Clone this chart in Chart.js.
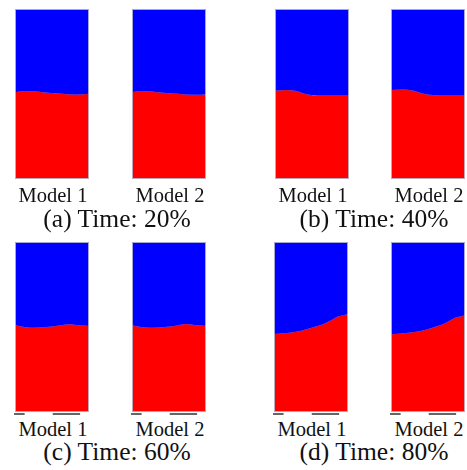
<!DOCTYPE html>
<html>
<head>
<meta charset="utf-8">
<script src="https://cdn.jsdelivr.net/npm/chart.js@4/dist/chart.umd.min.js"></script>
<style>
  html, body { margin: 0; padding: 0; background: #fff; }
  body { width: 467px; height: 470px; position: relative; overflow: hidden; font-family: "Liberation Serif", "DejaVu Serif", serif; color: #111; }
  .cell { position: absolute; width: 76px; height: 176px; }
  .cell canvas { display: block; }
  .lbl { position: absolute; width: 120px; text-align: center; font-size: 20.5px; line-height: 20px; white-space: nowrap; }
  .cap { position: absolute; width: 220px; text-align: center; font-size: 25.5px; line-height: 25px; white-space: nowrap; }
</style>
</head>
<body>
<script>
// Sub-figure captions and model names
const captions = ['(a) Time: 20%', '(b) Time: 40%', '(c) Time: 60%', '(d) Time: 80%'];
const modelNames = ['Model 1', 'Model 2'];

// Interface height (fraction of column height) sampled along the column width (fraction)
const colA1 = [0, 0.15, 0.38, 0.60, 0.83, 1];
const lvlA1 = [0.511, 0.517, 0.511, 0.503, 0.497, 0.501];
const colA2 = [0, 0.125, 0.39, 0.62, 0.84, 1];
const lvlA2 = [0.511, 0.517, 0.509, 0.501, 0.495, 0.499];

const colB1 = [0, 0.155, 0.29, 0.38, 0.47, 0.65, 1];
const lvlB1 = [0.520, 0.524, 0.517, 0.505, 0.495, 0.491, 0.491];
const colB2 = [0, 0.155, 0.29, 0.43, 0.52, 0.70, 1];
const lvlB2 = [0.523, 0.526, 0.520, 0.503, 0.495, 0.491, 0.491];

const colC1 = [0, 0.107, 0.24, 0.375, 0.55, 0.73, 0.87, 1];
const lvlC1 = [0.512, 0.502, 0.496, 0.498, 0.506, 0.516, 0.510, 0.506];
const colC2 = [0, 0.125, 0.26, 0.44, 0.57, 0.73, 0.88, 1];
const lvlC2 = [0.510, 0.500, 0.496, 0.500, 0.506, 0.518, 0.510, 0.506];

const colD1 = [0, 0.17, 0.35, 0.53, 0.67, 0.78, 0.87, 0.94, 1];
const lvlD1 = [0.459, 0.465, 0.477, 0.498, 0.518, 0.541, 0.563, 0.569, 0.576];
const colD2 = [0, 0.20, 0.38, 0.56, 0.70, 0.81, 0.88, 0.95, 1];
const lvlD2 = [0.457, 0.465, 0.475, 0.496, 0.516, 0.541, 0.557, 0.563, 0.569];

// Short dark strokes under the columns of the lower row
const stripX = [-0.02, 0.13, null, 0.51, 0.88];

const RED = '#ff0000';
const BLUE = '#0000ff';

// Layout of the 2x2 grid of sub-figures
const panels = [
  { caption: captions[0], cols: [[colA1, lvlA1], [colA2, lvlA2]], left: [15, 132], top: 9,   lblTop: 185, capTop: 206, capCenter: 117, strip: false },
  { caption: captions[1], cols: [[colB1, lvlB1], [colB2, lvlB2]], left: [275, 391], top: 9,  lblTop: 185, capTop: 206, capCenter: 374, strip: false },
  { caption: captions[2], cols: [[colC1, lvlC1], [colC2, lvlC2]], left: [15, 132], top: 242, lblTop: 419, capTop: 439, capCenter: 117, strip: true },
  { caption: captions[3], cols: [[colD1, lvlD1], [colD2, lvlD2]], left: [274, 391], top: 242, lblTop: 419, capTop: 439, capCenter: 374, strip: true }
];

// Thin light frame round each column
const framePlugin = {
  id: 'frame',
  afterDatasetsDraw(chart) {
    const a = chart.chartArea, ctx = chart.ctx;
    ctx.save();
    ctx.strokeStyle = 'rgba(185,185,205,0.9)';
    ctx.lineWidth = 1;
    ctx.strokeRect(a.left + 0.5, a.top + 0.5, a.right - a.left - 1, a.bottom - a.top - 1);
    ctx.restore();
  }
};

function toPoints(xs, ys) {
  return xs.map((x, i) => ({ x: x, y: ys[i] }));
}

function makeColumn(panel, k) {
  const [xs, ys] = panel.cols[k];
  const cell = document.createElement('div');
  cell.className = 'cell';
  cell.style.left = (panel.left[k] - 1) + 'px';
  cell.style.top = panel.top + 'px';
  const cv = document.createElement('canvas');
  cv.width = 76; cv.height = 176;
  cell.appendChild(cv);
  document.body.appendChild(cell);

  const pts = toPoints(xs, ys);
  const datasets = [
    { data: pts, fill: 'end', backgroundColor: BLUE, borderWidth: 0, pointRadius: 0, cubicInterpolationMode: 'monotone' },
    { data: pts, fill: 'origin', backgroundColor: RED, borderColor: 'rgba(120,50,150,0.55)', borderWidth: 1, pointRadius: 0, cubicInterpolationMode: 'monotone' }
  ];
  if (panel.strip) {
    datasets.push({
      data: stripX.map(x => ({ x: x, y: x === null ? null : -0.012 })),
      borderColor: '#333', borderWidth: 1.5, pointRadius: 0, fill: false, spanGaps: false, clip: false
    });
  }

  new Chart(cv, {
    type: 'line',
    data: { datasets: datasets },
    options: {
      responsive: false,
      animation: false,
      events: [],
      layout: { padding: { left: 1, right: 1, top: 0, bottom: 6 } },
      scales: {
        x: { type: 'linear', min: 0, max: 1, display: false },
        y: { type: 'linear', min: 0, max: 1, display: false }
      },
      plugins: { legend: { display: false }, tooltip: { enabled: false } }
    },
    plugins: [framePlugin]
  });

  const lbl = document.createElement('div');
  lbl.className = 'lbl';
  lbl.textContent = modelNames[k];
  lbl.style.left = (panel.left[k] + 37 + 1 - 60) + 'px';
  lbl.style.top = panel.lblTop + 'px';
  document.body.appendChild(lbl);
}

panels.forEach(p => {
  makeColumn(p, 0);
  makeColumn(p, 1);
  const cap = document.createElement('div');
  cap.className = 'cap';
  cap.textContent = p.caption;
  cap.style.left = (p.capCenter - 110) + 'px';
  cap.style.top = p.capTop + 'px';
  document.body.appendChild(cap);
});
</script>
</body>
</html>
